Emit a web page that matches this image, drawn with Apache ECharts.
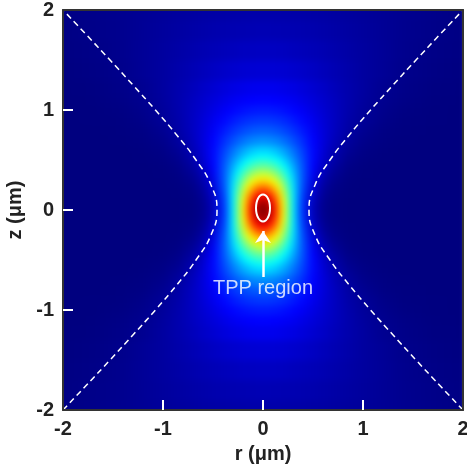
<!DOCTYPE html>
<html>
<head>
<meta charset="utf-8">
<script src="https://cdn.jsdelivr.net/npm/echarts@6/dist/echarts.min.js"></script>
<style>
  html, body { margin: 0; padding: 0; background: #fff; }
  #wrap { position: relative; width: 467px; height: 468px; }
  #fieldClip { position: absolute; left: 63px; top: 10px; width: 400px; height: 400px; overflow: hidden; }
  #field { position: absolute; left: -63px; top: -10px; width: 467px; height: 468px; filter: blur(3px); }
  #chart { position: absolute; left: 0; top: 0; width: 467px; height: 468px; }
</style>
</head>
<body>
<div id="wrap">
  <div id="fieldClip"><div id="field"></div></div>
  <div id="chart"></div>
</div>
<script>
// intensity field for r >= 0 and z >= 0 (the picture is mirror symmetric)
const rSamples = [0, 0.05, 0.1, 0.15, 0.2, 0.25, 0.3, 0.35, 0.4, 0.5, 0.6, 0.7, 0.85, 1.0, 1.2, 1.4, 1.7, 2.0];
const zSamples = [0, 0.05, 0.1, 0.15, 0.2, 0.25, 0.3, 0.35, 0.4, 0.45, 0.5, 0.55, 0.6, 0.7, 0.8, 0.9, 1.0, 1.1, 1.2, 1.4, 1.6, 1.8, 2.0];
const intensity = [
  [1.000, 0.972, 0.893, 0.775, 0.635, 0.492, 0.360, 0.249, 0.163, 0.059, 0.017, 0.004, 0, 0, 0, 0, 0, 0],
  [0.986, 0.959, 0.881, 0.767, 0.630, 0.490, 0.360, 0.251, 0.165, 0.060, 0.018, 0.004, 0, 0, 0, 0, 0, 0],
  [0.946, 0.921, 0.849, 0.743, 0.616, 0.484, 0.360, 0.254, 0.170, 0.065, 0.020, 0.005, 0, 0, 0, 0, 0, 0],
  [0.887, 0.865, 0.802, 0.707, 0.593, 0.473, 0.359, 0.259, 0.177, 0.072, 0.024, 0.006, 0.001, 0, 0, 0, 0, 0],
  [0.815, 0.796, 0.743, 0.662, 0.563, 0.457, 0.355, 0.263, 0.186, 0.081, 0.029, 0.009, 0.001, 0, 0, 0, 0, 0],
  [0.738, 0.723, 0.679, 0.611, 0.528, 0.437, 0.347, 0.265, 0.193, 0.091, 0.036, 0.012, 0.002, 0, 0, 0, 0, 0],
  [0.662, 0.650, 0.614, 0.559, 0.490, 0.414, 0.337, 0.264, 0.199, 0.101, 0.044, 0.017, 0.003, 0, 0, 0, 0, 0],
  [0.590, 0.580, 0.552, 0.508, 0.451, 0.388, 0.323, 0.260, 0.202, 0.111, 0.053, 0.022, 0.005, 0.001, 0, 0, 0, 0],
  [0.524, 0.516, 0.494, 0.458, 0.413, 0.361, 0.307, 0.253, 0.202, 0.118, 0.062, 0.028, 0.007, 0.001, 0, 0, 0, 0],
  [0.466, 0.460, 0.442, 0.414, 0.377, 0.335, 0.290, 0.244, 0.200, 0.124, 0.070, 0.035, 0.010, 0.002, 0, 0, 0, 0],
  [0.414, 0.409, 0.395, 0.373, 0.343, 0.309, 0.271, 0.233, 0.195, 0.128, 0.077, 0.042, 0.014, 0.004, 0.001, 0, 0, 0],
  [0.368, 0.364, 0.353, 0.335, 0.311, 0.283, 0.253, 0.221, 0.189, 0.129, 0.082, 0.048, 0.018, 0.006, 0.001, 0, 0, 0],
  [0.329, 0.326, 0.317, 0.303, 0.283, 0.261, 0.235, 0.208, 0.181, 0.129, 0.086, 0.053, 0.022, 0.008, 0.002, 0, 0, 0],
  [0.265, 0.263, 0.257, 0.248, 0.235, 0.220, 0.202, 0.184, 0.164, 0.125, 0.090, 0.061, 0.030, 0.013, 0.004, 0.001, 0, 0],
  [0.216, 0.215, 0.211, 0.204, 0.196, 0.185, 0.173, 0.160, 0.146, 0.117, 0.089, 0.065, 0.037, 0.019, 0.006, 0.002, 0, 0],
  [0.179, 0.178, 0.175, 0.171, 0.165, 0.158, 0.149, 0.140, 0.129, 0.108, 0.086, 0.066, 0.041, 0.024, 0.010, 0.003, 0.001, 0],
  [0.150, 0.149, 0.147, 0.144, 0.140, 0.135, 0.129, 0.122, 0.114, 0.098, 0.081, 0.065, 0.044, 0.027, 0.013, 0.005, 0.001, 0],
  [0.127, 0.126, 0.125, 0.123, 0.120, 0.116, 0.112, 0.106, 0.101, 0.089, 0.076, 0.063, 0.045, 0.030, 0.016, 0.008, 0.002, 0],
  [0.109, 0.109, 0.108, 0.106, 0.104, 0.101, 0.098, 0.094, 0.089, 0.080, 0.070, 0.059, 0.045, 0.032, 0.018, 0.010, 0.003, 0.001],
  [0.083, 0.083, 0.082, 0.081, 0.080, 0.078, 0.076, 0.074, 0.071, 0.065, 0.059, 0.052, 0.042, 0.032, 0.022, 0.013, 0.006, 0.002],
  [0.065, 0.065, 0.064, 0.063, 0.063, 0.062, 0.060, 0.059, 0.057, 0.054, 0.050, 0.045, 0.038, 0.031, 0.023, 0.015, 0.008, 0.004],
  [0.052, 0.052, 0.051, 0.051, 0.050, 0.050, 0.049, 0.048, 0.047, 0.045, 0.042, 0.039, 0.034, 0.029, 0.022, 0.016, 0.010, 0.005],
  [0.042, 0.042, 0.042, 0.042, 0.041, 0.041, 0.040, 0.040, 0.039, 0.037, 0.036, 0.033, 0.030, 0.026, 0.021, 0.017, 0.011, 0.006]
];

// dashed beam edge (white hyperbola)
const edgeZ = [-2, -1.75, -1.5, -1.25, -1, -0.75, -0.5, -0.25, 0, 0.25, 0.5, 0.75, 1, 1.25, 1.5, 1.75, 2];
const edgeR = [2.0, 1.764, 1.530, 1.301, 1.076, 0.863, 0.670, 0.520, 0.46, 0.520, 0.670, 0.863, 1.076, 1.301, 1.530, 1.764, 2.0];

// white contour round the core
const coreR = [0.07, 0.0647, 0.0495, 0.0268, 0, -0.0268, -0.0495, -0.0647, -0.07, -0.0647, -0.0495, -0.0268, 0, 0.0268, 0.0495, 0.0647, 0.07];
const coreZ = [0.02, 0.0717, 0.1155, 0.1447, 0.155, 0.1447, 0.1155, 0.0717, 0.02, -0.0317, -0.0755, -0.1047, -0.115, -0.1047, -0.0755, -0.0317, 0.02];

// annotation
const arrowFrom = [0, -0.67];
const arrowTo = [0, -0.21];
const tagPos = [0, -0.78];
const tagText = 'TPP region';

const axisTicks = [-2, -1, 0, 1, 2];
const innerTicks = [-1, 0, 1];

const jetStops = ['#00007f', '#0000ff', '#007fff', '#00ffff', '#7fff7f', '#ffff00', '#ff7f00', '#ff0000', '#7f0000'];

// mirror to the full plane
const rFull = rSamples.slice(1).map(r => -r).reverse().concat(rSamples);
const zFull = zSamples.slice(1).map(z => -z).reverse().concat(zSamples);
const rowsFull = intensity.slice(1).reverse().concat(intensity)
  .map(row => row.slice(1).reverse().concat(row));

const bands = zFull.map((z, i) => {
  const lo = i === 0 ? z : (z + zFull[i - 1]) / 2;
  const hi = i === zFull.length - 1 ? z : (z + zFull[i + 1]) / 2;
  return [i, lo, hi];
});

const rMin = rFull[0], rMax = rFull[rFull.length - 1];
const gridBox = { left: 63, right: 4, top: 10, bottom: 58, outerBoundsMode: 'none' };
const font = '"Liberation Sans", Arial, Helvetica, sans-serif';

// colour field (blurred underneath, clipped to the plot box)
const field = echarts.init(document.getElementById('field'));
field.setOption({
  animation: false,
  grid: gridBox,
  xAxis: { type: 'value', min: -2, max: 2, show: false },
  yAxis: { type: 'value', min: -2, max: 2, show: false },
  series: [{
    type: 'custom',
    silent: true,
    clip: false,
    data: bands,
    renderItem: function (params, api) {
      const i = api.value(0);
      const p0 = api.coord([rMin, api.value(2)]);
      const p1 = api.coord([rMax, api.value(1)]);
      const pad = 20;
      const top = i === bands.length - 1 ? p0[1] - pad : p0[1] - 0.5;
      const bottom = i === 0 ? p1[1] + pad : p1[1] + 0.5;
      const stops = rFull.map((r, k) => ({
        offset: (r - rMin) / (rMax - rMin),
        color: echarts.color.lerp(rowsFull[i][k], jetStops)
      }));
      return {
        type: 'rect',
        shape: { x: p0[0] - pad, y: top, width: p1[0] - p0[0] + 2 * pad, height: bottom - top },
        style: { fill: new echarts.graphic.LinearGradient(p0[0], 0, p1[0], 0, stops, true) }
      };
    }
  }]
});

const labelStyle = { color: '#222', fontSize: 20, fontWeight: 'bold', fontFamily: font };

function mainAxis(pos, name, gap) {
  return {
    type: 'value', position: pos, min: -2, max: 2, interval: 1, z: 10,
    name: name, nameLocation: 'middle', nameGap: gap,
    nameTextStyle: { color: '#222', fontSize: 20, fontWeight: 'bold', fontFamily: font },
    axisLine: { show: true, onZero: false, lineStyle: { color: '#333', width: 2 } },
    axisTick: { show: true, inside: true, length: 10, customValues: innerTicks, lineStyle: { color: '#fff', width: 2 } },
    axisLabel: Object.assign({ margin: 9, customValues: axisTicks }, labelStyle),
    splitLine: { show: false }
  };
}
function frameAxis(pos) {
  return {
    type: 'value', position: pos, min: -2, max: 2, interval: 1, z: 10,
    axisLine: { show: true, onZero: false, lineStyle: { color: '#333', width: 2 } },
    axisTick: { show: false }, axisLabel: { show: false }, splitLine: { show: false }
  };
}

const chart = echarts.init(document.getElementById('chart'));
chart.setOption({
  animation: false,
  backgroundColor: 'transparent',
  grid: gridBox,
  xAxis: [mainAxis('bottom', 'r (μm)', 34), frameAxis('top')],
  yAxis: [mainAxis('left', 'z (μm)', 34), frameAxis('right')],
  series: [
    {
      type: 'line', silent: true, showSymbol: false, smooth: true,
      data: edgeZ.map((z, i) => [-edgeR[i], z]),
      lineStyle: { color: '#fff', width: 1.5, type: [6, 4] }
    },
    {
      type: 'line', silent: true, showSymbol: false, smooth: true,
      data: edgeZ.map((z, i) => [edgeR[i], z]),
      lineStyle: { color: '#fff', width: 1.5, type: [6, 4] }
    },
    {
      type: 'line', silent: true, showSymbol: false, smooth: true,
      data: coreZ.map((z, i) => [coreR[i], z]),
      lineStyle: { color: '#fff', width: 2 },
      markLine: {
        silent: true,
        symbol: ['none', 'arrow'],
        symbolSize: [12, 12],
        label: { show: false },
        lineStyle: { color: '#fff', width: 2.5, type: 'solid' },
        data: [[{ coord: arrowFrom }, { coord: arrowTo }]]
      }
    },
    {
      type: 'scatter', silent: true, symbolSize: 0,
      data: [tagPos],
      label: {
        show: true, position: 'inside', formatter: tagText,
        color: '#fff', fontSize: 20, fontFamily: font
      }
    }
  ]
});
</script>
</body>
</html>
